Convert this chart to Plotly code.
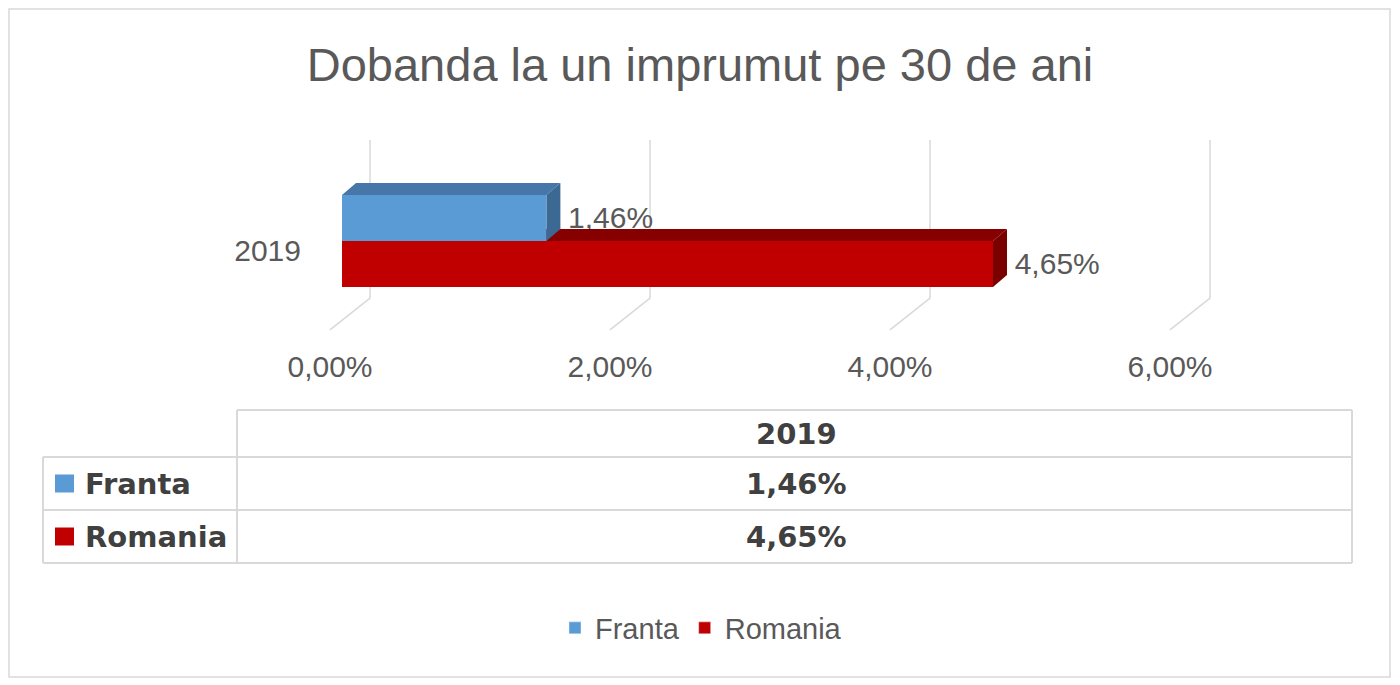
import plotly.graph_objects as go

# ---------------- data ----------------
title_text = "Dobanda la un imprumut pe 30 de ani"
category = "2019"
series_names = ["Franta", "Romania"]
series_values = [1.46, 4.65]
x_ticks = [0, 2, 4, 6]

# ---------------- style ----------------
front_colors = ["#5b9bd5", "#c00000"]
top_colors = ["#4677a8", "#870000"]
side_colors = ["#3c6994", "#7a0000"]
grid_color = "#d9d9d9"
text_color = "#595959"
table_text_color = "#404040"
FONT = "Liberation Sans, Arial, sans-serif"
BOLD_FONT = "DejaVu Sans, sans-serif"

OFF = 8  # page body margin
W_FIG, H_FIG = 1400 - OFF, 685 - OFF
PW, PH = 903, 195
L = 321 - OFF
T = 140 - OFF
R = W_FIG - L - PW
B = H_FIG - T - PH

XR = [-0.15, 6.3]
YR = [-1.022, 1.098]
DX, DY = 0.1, 0.13  # 3D depth in data units


def fmt(v):
    return f"{v:.2f}".replace(".", ",") + "%"


def pxp(x):
    # reference-image pixel -> paper x
    return (x - OFF - L) / PW


def pyp(y):
    # reference-image pixel -> paper y
    return (T + PH - (y - OFF)) / PH


fig = go.Figure()

# gridlines (back wall + floor diagonal)
for v in x_ticks:
    fig.add_trace(go.Scatter(
        x=[v + DX * 2, v + DX * 2, v - 0.086],
        y=[YR[1], -0.62, -0.967],
        mode="lines", line=dict(color=grid_color, width=1.5),
        hoverinfo="skip", showlegend=False))

# bar positions: Franta on top, Romania below
y_ranges = [(0.0, 0.5), (-0.5, 0.0)]
label_y = [0.22, -0.28]


def add_bar(i):
    v = series_values[i]
    y0, y1 = y_ranges[i]
    fig.add_trace(go.Scatter(
        x=[0, v, v + DX, DX, 0], y=[y1, y1, y1 + DY, y1 + DY, y1],
        fill="toself", fillcolor=top_colors[i], mode="lines",
        line=dict(width=0, color=top_colors[i]), hoverinfo="skip", showlegend=False))
    fig.add_trace(go.Scatter(
        x=[v, v + DX, v + DX, v, v], y=[y0, y0 + DY, y1 + DY, y1, y0],
        fill="toself", fillcolor=side_colors[i], mode="lines",
        line=dict(width=0, color=side_colors[i]), hoverinfo="skip", showlegend=False))
    fig.add_trace(go.Scatter(
        x=[0, v, v, 0, 0], y=[y0, y0, y1, y1, y0],
        fill="toself", fillcolor=front_colors[i], mode="lines",
        line=dict(width=0, color=front_colors[i]), hoverinfo="skip", showlegend=False))


def add_label(i):
    v = series_values[i]
    fig.add_trace(go.Scatter(
        x=[v + DX * 1.55], y=[label_y[i]], mode="text", text=[fmt(v)],
        textposition="middle right",
        textfont=dict(family=FONT, size=30, color=text_color),
        hoverinfo="skip", showlegend=False, cliponaxis=False))


# Franta label sits behind Romania bar
add_label(0)
add_bar(1)
add_bar(0)
add_label(1)

# legend entries
for i, name in enumerate(series_names):
    fig.add_trace(go.Bar(x=[None], y=[None], name=name, orientation="h",
                         marker=dict(color=front_colors[i]), showlegend=True))

shapes = []
annotations = []

# outer border
shapes.append(dict(type="rect", xref="paper", yref="paper",
                   x0=pxp(9), x1=pxp(1390), y0=pyp(677), y1=pyp(9),
                   line=dict(color=grid_color, width=1.5), layer="below"))

# data table
tl, tm, tr = 43, 237, 1352
rows_y = [410, 457, 510, 563]


def hline(y, x0, x1):
    shapes.append(dict(type="line", xref="paper", yref="paper",
                       x0=pxp(x0), x1=pxp(x1), y0=pyp(y), y1=pyp(y),
                       line=dict(color=grid_color, width=2)))


def vline(x, y0, y1):
    shapes.append(dict(type="line", xref="paper", yref="paper",
                       x0=pxp(x), x1=pxp(x), y0=pyp(y0), y1=pyp(y1),
                       line=dict(color=grid_color, width=2)))


hline(rows_y[0], tm, tr)
for yy in rows_y[1:]:
    hline(yy, tl, tr)
vline(tl, rows_y[1], rows_y[3])
vline(tm, rows_y[0], rows_y[3])
vline(tr, rows_y[0], rows_y[3])

val_cx = (tm + tr) / 2 + 2
annotations.append(dict(xref="paper", yref="paper", x=pxp(val_cx),
                        y=pyp((rows_y[0] + rows_y[1]) / 2),
                        text="<b>" + category + "</b>", showarrow=False,
                        xanchor="center", yanchor="middle",
                        font=dict(family=BOLD_FONT, size=29, color=table_text_color)))
for i, name in enumerate(series_names):
    cy = (rows_y[i + 1] + rows_y[i + 2]) / 2
    shapes.append(dict(type="rect", xref="paper", yref="paper",
                       x0=pxp(55), x1=pxp(74), y0=pyp(cy - 9), y1=pyp(cy + 9),
                       fillcolor=front_colors[i], line=dict(width=0)))
    annotations.append(dict(xref="paper", yref="paper", x=pxp(83), y=pyp(cy),
                            text="<b>" + name + "</b>", showarrow=False,
                            xanchor="left", yanchor="middle",
                            font=dict(family=BOLD_FONT, size=29, color=table_text_color)))
    annotations.append(dict(xref="paper", yref="paper", x=pxp(val_cx), y=pyp(cy),
                            text="<b>" + fmt(series_values[i]) + "</b>", showarrow=False,
                            xanchor="center", yanchor="middle",
                            font=dict(family=BOLD_FONT, size=29, color=table_text_color)))

fig.update_layout(
    width=W_FIG, height=H_FIG,
    margin=dict(l=L, r=R, t=T, b=B, pad=0),
    paper_bgcolor="white", plot_bgcolor="white",
    title=dict(text=title_text, x=(700 - OFF) / W_FIG, xanchor="center", xref="container",
               y=1 - (65 - OFF) / H_FIG, yanchor="middle", yref="container",
               font=dict(family=FONT, size=47, color=text_color)),
    xaxis=dict(range=XR, tickvals=x_ticks, ticktext=[fmt(v) for v in x_ticks],
               showgrid=False, zeroline=False, showline=False, ticks="",
               ticklabelshift=-12, ticklabelstandoff=11,
               tickfont=dict(family=FONT, size=30, color=text_color), fixedrange=True),
    yaxis=dict(range=YR, tickvals=[0], ticktext=[category],
               showgrid=False, zeroline=False, showline=False, ticks="",
               ticklabelstandoff=19, ticklabelshift=9,
               tickfont=dict(family=FONT, size=30, color=text_color), fixedrange=True),
    legend=dict(orientation="h", x=pxp(701), xanchor="center", y=pyp(628), yanchor="middle",
                font=dict(family=FONT, size=29, color=text_color), bgcolor="rgba(0,0,0,0)"),
    shapes=shapes, annotations=annotations,
    showlegend=True,
)

fig.write_html("out.html")
